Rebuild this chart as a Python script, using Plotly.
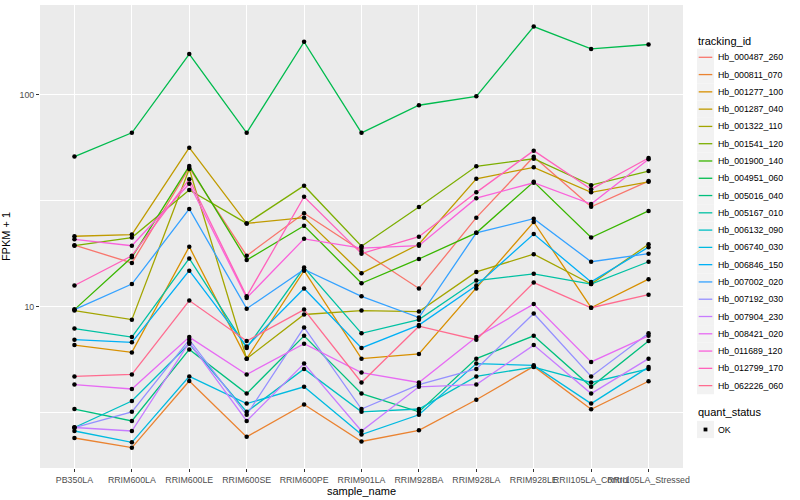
import plotly.graph_objects as go

samples = ["PB350LA", "RRIM600LA", "RRIM600LE", "RRIM600SE", "RRIM600PE", "RRIM901LA",
           "RRIM928BA", "RRIM928LA", "RRIM928LE", "RRII105LA_Control", "RRII105LA_Stressed"]

tracking_ids = ["Hb_000487_260", "Hb_000811_070", "Hb_001277_100", "Hb_001287_040",
                "Hb_001322_110", "Hb_001541_120", "Hb_001900_140", "Hb_004951_060",
                "Hb_005016_040", "Hb_005167_010", "Hb_006132_090", "Hb_006740_030",
                "Hb_006846_150", "Hb_007002_020", "Hb_007192_030", "Hb_007904_230",
                "Hb_008421_020", "Hb_011689_120", "Hb_012799_170", "Hb_062226_060"]

# FPKM + 1 values, one list per tracking_id (same order as samples)
Hb_000487_260 = [19.5, 16.1, 45.1, 17.4, 27.6, 18.3, 12.2, 26.3, 50.9, 29.6, 39.1]
Hb_000811_070 = [2.41, 2.17, 4.47, 2.44, 3.47, 2.32, 2.62, 3.65, 5.24, 3.29, 4.46]
Hb_001277_100 = [6.6, 6.1, 19.2, 5.7, 14.8, 5.7, 6.0, 12.2, 25.1, 9.9, 13.5]
Hb_001287_040 = [21.5, 21.9, 56.2, 24.7, 26.3, 14.4, 19.7, 40.1, 45.4, 34.6, 38.8]
Hb_001322_110 = [9.6, 8.7, 44.6, 5.7, 9.2, 9.6, 9.5, 14.6, 17.7, 12.8, 19.7]
Hb_001541_120 = [19.4, 21.2, 35.5, 24.7, 37.2, 19.3, 29.5, 45.9, 49.8, 37.4, 43.6]
Hb_001900_140 = [9.7, 17.1, 46.0, 16.6, 24.1, 12.9, 16.8, 22.3, 38.8, 21.2, 28.3]
Hb_004951_060 = [51, 66, 155, 66, 177, 66, 89, 98, 209, 164, 172]
Hb_005016_040 = [3.3, 2.9, 6.3, 3.9, 7.3, 3.9, 3.2, 5.7, 7.3, 4.2, 6.9]
Hb_005167_010 = [7.9, 7.2, 16.9, 6.4, 15.3, 7.5, 8.7, 13.3, 14.3, 12.8, 16.3]
Hb_006132_090 = [2.7, 3.6, 6.7, 3.2, 5.1, 3.2, 3.3, 4.7, 5.2, 4.4, 5.1]
Hb_006740_030 = [2.6, 2.3, 4.7, 3.5, 4.2, 2.5, 3.1, 5.4, 5.3, 3.5, 5.2]
Hb_006846_150 = [7.0, 6.8, 14.8, 6.5, 12.2, 6.4, 8.2, 12.6, 22.0, 13.1, 19.1]
Hb_007002_020 = [9.7, 12.8, 28.9, 9.8, 15.0, 11.2, 8.9, 22.3, 26.0, 16.3, 17.8]
Hb_007192_030 = [2.7, 3.2, 7.0, 3.1, 8.0, 3.3, 4.3, 5.1, 9.3, 4.7, 7.5]
Hb_007904_230 = [2.7, 2.6, 6.8, 2.9, 5.4, 2.6, 4.2, 4.3, 6.6, 3.9, 5.7]
Hb_008421_020 = [4.3, 4.1, 7.2, 4.8, 6.7, 4.9, 4.4, 7.2, 10.3, 5.5, 7.3]
Hb_011689_120 = [20.8, 19.4, 38.0, 11.0, 20.9, 18.9, 19.4, 32.5, 38.4, 30.5, 49.5]
Hb_012799_170 = [12.6, 17.4, 39.9, 11.2, 33.0, 17.8, 21.4, 34.6, 54.4, 35.8, 50.2]
Hb_062226_060 = [4.7, 4.8, 10.7, 6.9, 9.7, 4.4, 8.1, 7.0, 13.0, 9.9, 11.4]

series = [Hb_000487_260, Hb_000811_070, Hb_001277_100, Hb_001287_040, Hb_001322_110,
          Hb_001541_120, Hb_001900_140, Hb_004951_060, Hb_005016_040, Hb_005167_010,
          Hb_006132_090, Hb_006740_030, Hb_006846_150, Hb_007002_020, Hb_007192_030,
          Hb_007904_230, Hb_008421_020, Hb_011689_120, Hb_012799_170, Hb_062226_060]

colors = ["#F8766D", "#EA8331", "#D89000", "#C09B00", "#A3A500", "#7CAE00", "#39B600",
          "#00BB4E", "#00BF7D", "#00C1A3", "#00BFC4", "#00BAE0", "#00B0F6", "#35A2FF",
          "#9590FF", "#C77CFF", "#E76BF3", "#FA62DB", "#FF62BC", "#FF6C90"]

quant_status = "OK"

FONT = "Liberation Sans"
W, H = 800, 500
ML, MR, MT, MB = 40, 117, 5, 32
PW, PH = W - ML - MR, H - MT - MB


def pxx(px):
    return (px - ML) / PW


def pxy(py):
    return (H - MB - py) / PH


fig = go.Figure()

for tid, vals, col in zip(tracking_ids, series, colors):
    fig.add_trace(go.Scatter(x=samples, y=vals, mode="lines", name=tid,
                             line=dict(color=col, width=1.3)))

all_x = [s for _ in series for s in samples]
all_y = [v for vals in series for v in vals]
fig.add_trace(go.Scatter(x=all_x, y=all_y, mode="markers", name=quant_status,
                         marker=dict(color="black", size=4.5)))

# ---- ggplot-like legend drawn in the right margin ----
shapes, annots = [], []
KEY = 17.28
key_x0, key_x1 = 697, 714


def legend_title(text, yc):
    annots.append(dict(text=text, x=pxx(695.5), y=pxy(yc), xref="paper", yref="paper",
                       xanchor="left", yanchor="middle", showarrow=False,
                       font=dict(size=11, color="black", family=FONT)))


def legend_label(text, yc):
    annots.append(dict(text=text, x=pxx(715.5), y=pxy(yc), xref="paper", yref="paper",
                       xanchor="left", yanchor="middle", showarrow=False,
                       font=dict(size=8.8, color="black", family=FONT)))


def key_box(yc):
    shapes.append(dict(type="rect", xref="paper", yref="paper",
                       x0=pxx(key_x0), x1=pxx(key_x1),
                       y0=pxy(yc + KEY / 2), y1=pxy(yc - KEY / 2),
                       fillcolor="#F2F2F2", line=dict(width=0), layer="below"))


legend_title("tracking_id", 40.7)
for i, (tid, col) in enumerate(zip(tracking_ids, colors)):
    yc = 57.3 + KEY * i
    key_box(yc)
    shapes.append(dict(type="line", xref="paper", yref="paper",
                       x0=pxx(key_x0 + 1.7), x1=pxx(key_x1 - 1.7),
                       y0=pxy(yc), y1=pxy(yc), line=dict(color=col, width=1.3)))
    legend_label(tid, yc)

legend_title("quant_status", 412.3)
yc_ok = 429.5
key_box(yc_ok)
shapes.append(dict(type="rect", xref="paper", yref="paper",
                   x0=pxx(703.6), x1=pxx(707.4), y0=pxy(yc_ok + 1.9), y1=pxy(yc_ok - 1.9),
                   fillcolor="black", line=dict(width=0)))
legend_label(quant_status, yc_ok)

fig.update_layout(
    width=W, height=H,
    margin=dict(l=ML, r=MR, t=MT, b=MB),
    paper_bgcolor="white",
    plot_bgcolor="#EBEBEB",
    font=dict(family=FONT, size=9, color="black"),
    showlegend=False,
    shapes=shapes,
    annotations=annots,
    xaxis=dict(type="category", categoryorder="array", categoryarray=samples,
               range=[-0.6, 10.6], showgrid=True, gridcolor="white", gridwidth=1.4,
               ticks="outside", ticklen=3, tickcolor="#333333", tickwidth=1,
               tickangle=0, tickfont=dict(size=8.8, color="#4D4D4D", family=FONT),
               zeroline=False, showline=False, automargin=False,
               title=dict(text="sample_name", font=dict(size=11, color="black", family=FONT),
                          standoff=2)),
    yaxis=dict(type="log", range=[0.2407, 2.4216],
               tickvals=[10, 100], ticktext=["10", "100"],
               showgrid=True, gridcolor="white", gridwidth=1.4,
               minor=dict(tickvals=[3.1623, 31.623, 316.23], showgrid=True,
                          gridcolor="white", gridwidth=0.7, ticks=""),
               ticks="outside", ticklen=3, tickcolor="#333333", tickwidth=1,
               tickfont=dict(size=8.8, color="#4D4D4D", family=FONT),
               zeroline=False, showline=False, automargin=False,
               title=dict(text="FPKM + 1", font=dict(size=11, color="black", family=FONT),
                          standoff=7)),
)

fig.write_html("out.html", config={"displayModeBar": False},
               post_script="document.body.style.margin='0';document.body.style.padding='0';")
